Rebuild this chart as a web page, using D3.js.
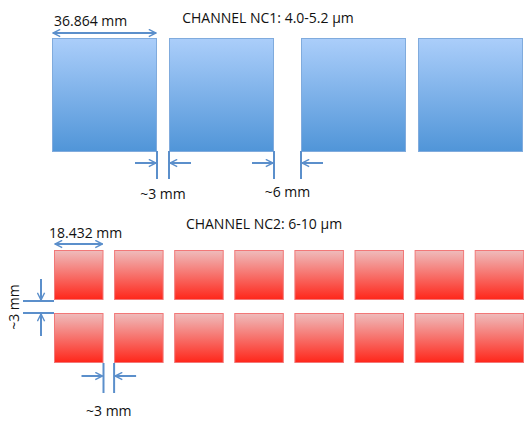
<!DOCTYPE html>
<html><head><meta charset="utf-8">
<script src="https://cdn.jsdelivr.net/npm/d3@7"></script>
<style>body{margin:0;background:#fff}svg{display:block}</style>
</head><body>
<script>
// ---- data ----
const ch1Title = "CHANNEL NC1: 4.0-5.2 \u00b5m";
const ch2Title = "CHANNEL NC2: 6-10 \u00b5m";
const ch1Detectors = [0, 1, 2, 3];            // blue detector column index
const ch1WideGapAfter = [2, 3];               // columns shifted by the wider (~6 mm) gap
const ch1SizeLabel = "36.864 mm";
const ch1GapLabels = ["~3 mm", "~6 mm"];
const ch2Columns = [0, 1, 2, 3, 4, 5, 6, 7];
const ch2Rows = [0, 1];
const ch2SizeLabel = "18.432 mm";
const ch2GapLabels = ["~3 mm", "~3 mm"];

const W = 524, H = 421;
const svg = d3.select("body").append("svg").attr("width", W).attr("height", H);
const defs = svg.append("defs");
const gb = defs.append("linearGradient").attr("id","gb").attr("x1",0).attr("y1",0).attr("x2",0).attr("y2",1);
gb.append("stop").attr("offset","0%").attr("stop-color","#abcefa");
gb.append("stop").attr("offset","100%").attr("stop-color","#5095d8");
const gr = defs.append("linearGradient").attr("id","gr").attr("x1",0).attr("y1",0).attr("x2",0).attr("y2",1);
gr.append("stop").attr("offset","0%").attr("stop-color","#efbcbc");
gr.append("stop").attr("offset","100%").attr("stop-color","#ff261a");
const AC = "#5b8fcb";
function marker(id, orient){
  defs.append("marker").attr("id",id).attr("viewBox","0 0 10 10").attr("refX",9).attr("refY",5)
    .attr("markerWidth",4.5).attr("markerHeight",4.5).attr("orient",orient).attr("markerUnits","strokeWidth")
    .append("path").attr("d","M1,1 L9,5 L1,9").attr("fill","none").attr("stroke",AC).attr("stroke-width",1.6);
}
marker("ah","auto"); marker("as","auto-start-reverse");
const font = "'Open Sans', 'Liberation Sans', sans-serif";
const fs = "14px";

// ---- Channel 1 ----
const x1 = d3.scaleLinear().domain([0,1]).range([52,169]);
const wide = 15, w1 = 105;
const col1 = i => x1(i) + (ch1WideGapAfter.includes(i) ? wide : 0);
const y1 = d3.scaleLinear().domain([0,1]).range([38,151]);

svg.append("text").attr("x",268).attr("y",23).attr("text-anchor","middle")
  .style("font-family",font).style("font-size",fs).attr("fill","#111").text(ch1Title);

svg.selectAll("rect.b").data(ch1Detectors).enter().append("rect").attr("class","b")
  .attr("x", d=>col1(d)+0.5).attr("y", y1(0)+0.5).attr("width", w1-1).attr("height", y1(1)-y1(0))
  .attr("fill","url(#gb)").attr("stroke","#80abdd").attr("stroke-width",1);

function line(x1_,y1_,x2_,y2_,start,end){
  const l = svg.append("line").attr("x1",x1_).attr("y1",y1_).attr("x2",x2_).attr("y2",y2_)
    .attr("stroke",AC).attr("stroke-width",2);
  if(start) l.attr("marker-start","url(#as)");
  if(end) l.attr("marker-end","url(#ah)");
  return l;
}
// size arrow
line(col1(0)+1, 33, col1(0)+w1-1, 33, true, true);
svg.append("text").attr("x",col1(0)+2).attr("y",26).style("font-family",font).style("font-size",fs)
  .attr("fill","#111").text(ch1SizeLabel);

// gap dims
function gapDim(xa, xb, yTop, yBot, yArr, label, labelY){
  line(xa, yTop, xa, yBot); line(xb, yTop, xb, yBot);
  line(xa-22, yArr, xa-1, yArr, false, true);
  line(xb+22, yArr, xb+1, yArr, false, true);
  svg.append("text").attr("x",(xa+xb)/2).attr("y",labelY).attr("text-anchor","middle")
    .style("font-family",font).style("font-size",fs).attr("fill","#111").text(label);
}
gapDim(col1(0)+w1, col1(1), 151, 179, 163, ch1GapLabels[0], 199);
gapDim(col1(1)+w1, col1(2), 151, 179, 163, ch1GapLabels[1], 197);

// ---- Channel 2 ----
svg.append("text").attr("x",264).attr("y",229).attr("text-anchor","middle")
  .style("font-family",font).style("font-size",fs).attr("fill","#111").text(ch2Title);

const x2 = d3.scaleLinear().domain([0,1]).range([54,114.1]);
const w2 = 49.5;
const y2 = d3.scaleLinear().domain([0,1]).range([250,313]);
const h2 = 50;

const cells = [];
ch2Rows.forEach(r => ch2Columns.forEach(c => cells.push({r,c})));
svg.selectAll("rect.r").data(cells).enter().append("rect").attr("class","r")
  .attr("x", d=>x2(d.c)+0.5).attr("y", d=>y2(d.r)+0.5).attr("width", w2-1).attr("height", h2-1)
  .attr("fill","url(#gr)").attr("stroke","#f27878").attr("stroke-width",1);

line(x2(0)+1, 244, x2(0)+w2-1, 244, true, true);
svg.append("text").attr("x",x2(0)-5).attr("y",238).style("font-family",font).style("font-size",fs)
  .attr("fill","#111").text(ch2SizeLabel);

// vertical gap dim (left)
const yA = y2(0)+h2+1, yB = y2(1);
line(23, yA, x2(0), yA); line(23, yB, x2(0), yB);
line(41, yA-22, 41, yA-1, false, true);
line(41, yB+23, 41, yB+1, false, true);
svg.append("text").attr("transform",`translate(19,${(yA+yB)/2}) rotate(-90)`).attr("text-anchor","middle")
  .style("font-family",font).style("font-size",fs).attr("fill","#111").text(ch2GapLabels[0]);

// horizontal gap dim (bottom)
gapDim(x2(0)+w2, x2(1), 363, 393, 376, ch2GapLabels[1], 416);
</script>
</body></html>
